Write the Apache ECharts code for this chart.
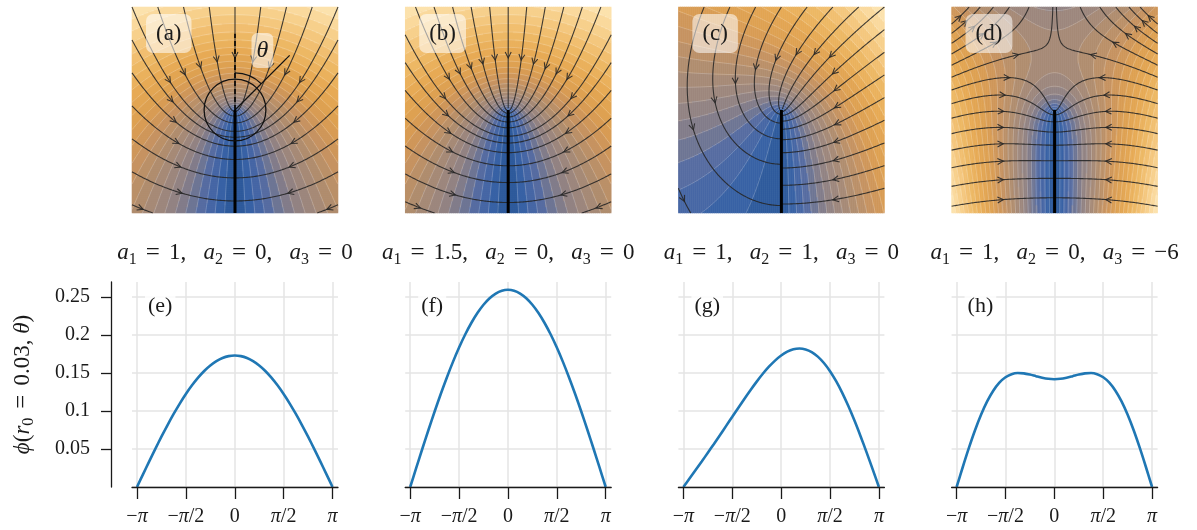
<!DOCTYPE html>
<html>
<head>
<meta charset="utf-8">
<script src="https://cdn.jsdelivr.net/npm/echarts@6.0.0/dist/echarts.min.js"></script>
<style>
html, body { margin: 0; padding: 0; background: #ffffff; }
#chart { width: 1197px; height: 530px; }
</style>
</head>
<body>
<div id="chart"></div>
<script>
// ---------------- values ----------------
// expansion coefficients (a1, a2, a3) of each column
const coefA = [[1, 0, 0], [1.5, 0, 0], [1, 1, 0], [1, 0, -6]];
const topTags = ['(a)', '(b)', '(c)', '(d)'];
const bottomTags = ['(e)', '(f)', '(g)', '(h)'];
const r0 = 0.03;

// sampled angles, in units of pi
const thetaOverPi = [-1, -0.9375, -0.875, -0.8125, -0.75, -0.6875, -0.625, -0.5625, -0.5, -0.4375, -0.375,
  -0.3125, -0.25, -0.1875, -0.125, -0.0625, 0, 0.0625, 0.125, 0.1875, 0.25, 0.3125, 0.375, 0.4375, 0.5,
  0.5625, 0.625, 0.6875, 0.75, 0.8125, 0.875, 0.9375, 1];
// phi(r0, theta) for each column
const phiE = [0, 0.0170, 0.0338, 0.0503, 0.0663, 0.0816, 0.0962, 0.1099, 0.1225, 0.1339, 0.1440, 0.1528, 0.1600,
  0.1657, 0.1699, 0.1724, 0.1732, 0.1724, 0.1699, 0.1657, 0.1600, 0.1528, 0.1440, 0.1339, 0.1225, 0.1099,
  0.0962, 0.0816, 0.0663, 0.0503, 0.0338, 0.0170, 0];
const phiF = [0, 0.0255, 0.0507, 0.0754, 0.0994, 0.1225, 0.1443, 0.1648, 0.1837, 0.2008, 0.2160, 0.2291, 0.2400,
  0.2486, 0.2548, 0.2586, 0.2598, 0.2586, 0.2548, 0.2486, 0.2400, 0.2291, 0.2160, 0.2008, 0.1837, 0.1648,
  0.1443, 0.1225, 0.0994, 0.0754, 0.0507, 0.0255, 0];
const phiG = [0, 0.0111, 0.0223, 0.0336, 0.0451, 0.0567, 0.0685, 0.0805, 0.0925, 0.1045, 0.1163, 0.1278, 0.1388,
  0.1491, 0.1584, 0.1665, 0.1732, 0.1782, 0.1814, 0.1824, 0.1812, 0.1777, 0.1717, 0.1633, 0.1525, 0.1393,
  0.1240, 0.1066, 0.0875, 0.0669, 0.0453, 0.0228, 0];
const phiH = [0, 0.0260, 0.0511, 0.0744, 0.0951, 0.1127, 0.1268, 0.1374, 0.1445, 0.1486, 0.1501, 0.1497, 0.1481,
  0.1460, 0.1440, 0.1425, 0.1420, 0.1425, 0.1440, 0.1460, 0.1481, 0.1497, 0.1501, 0.1486, 0.1445, 0.1374,
  0.1268, 0.1127, 0.0951, 0.0744, 0.0511, 0.0260, 0];
const curves = [phiE, phiF, phiG, phiH];

const xTickText = { '-1': '−π', '-0.5': '−π/2', '0': '0', '0.5': 'π/2', '1': 'π' };
const yTickValues = [0.05, 0.1, 0.15, 0.2, 0.25];
const yTickLabels = ['0.05', '0.1', '0.15', '0.2', '0.25'];

// crack face (x = 0, below the tip) in field coordinates
const crackFace = [[0, -0.1], [0, 0]];

// ---------------- styling / layout ----------------
const FONT = "'Liberation Serif', 'DejaVu Serif', serif";
const INK = '#1a1a1a';
const GRID_GRAY = '#e4e4e4';
const HALF = 0.1;          // half width of each field window
const NC = 103;            // heatmap cells per side
const NBANDS = 24;         // filled contour bands
const STEP = 273.2;        // horizontal distance between columns
const FIELD_LEFT = 132, FIELD_TOP = 7, FIELD_SIZE = 206;
const PLOT_TOP = 282, PLOT_H = 205, PLOT_YMAX = 0.27;
// streamline start spacing: along the top edge, and along the sides (at the top corner, at the bottom corner)
const seedLayout = [
  { top: 0.025, side: [0.032, 0.032] },
  { top: 0.018, side: [0.027, 0.027] },
  { top: 0.025, side: [0.022, 0.022] },
  { top: 0.016, side: [0.008, 0.021] }
];
// smallest inward share of the flow direction for a start point (top edge, side edges)
const MIN_ENTRY_TOP = 0.02, MIN_ENTRY_SIDE = 0.35;

const cmapStops = [
  [0.00, '#2a5898'], [0.07, '#3a63a6'], [0.14, '#546ba3'], [0.21, '#7b798d'],
  [0.28, '#968582'], [0.35, '#a58a78'], [0.42, '#b68e6b'], [0.50, '#cb955d'],
  [0.58, '#db9e52'], [0.68, '#e6a954'], [0.78, '#eeb966'], [0.88, '#f6cc86'],
  [0.95, '#fbdca2'], [1.00, '#fde6b4']
];
function hexRgb(h) { return [1, 3, 5].map(k => parseInt(h.slice(k, k + 2), 16)); }
function cmap(t) {
  for (let k = 1; k < cmapStops.length; k++) {
    if (t <= cmapStops[k][0] || k === cmapStops.length - 1) {
      const [t0, c0] = cmapStops[k - 1], [t1, c1] = cmapStops[k];
      const f = Math.max(0, Math.min(1, (t - t0) / (t1 - t0)));
      const a = hexRgb(c0), b = hexRgb(c1);
      return 'rgb(' + a.map((v, j) => Math.round(v + (b[j] - v) * f)).join(',') + ')';
    }
  }
}
const bandColors = Array.from({ length: NBANDS }, (_, b) => cmap((b + 0.5) / NBANDS));

// ---------------- near-tip field ----------------
// phi = a1 r^(1/2) cos(t/2) + a2 r sin(t) + a3 r^(3/2) cos(3t/2), t measured from the +y direction
function phiAt(a, x, y) {
  const r = Math.hypot(x, y), t = Math.atan2(x, y), sr = Math.sqrt(r);
  return a[0] * sr * Math.cos(t / 2) + a[1] * r * Math.sin(t) + a[2] * r * sr * Math.cos(1.5 * t);
}
function gradAt(a, x, y) {
  const r = Math.hypot(x, y);
  if (r < 1e-9) return [0, 0];
  const t = Math.atan2(x, y), sr = Math.sqrt(r);
  const pr = a[0] * 0.5 / sr * Math.cos(t / 2) + a[1] * Math.sin(t) + a[2] * 1.5 * sr * Math.cos(1.5 * t);
  const pt = -a[0] * 0.5 / sr * Math.sin(t / 2) + a[1] * Math.cos(t) - a[2] * 1.5 * sr * Math.sin(1.5 * t);
  const st = Math.sin(t), ct = Math.cos(t);
  return [pr * st + pt * ct, pr * ct - pt * st];
}

function buildField(a) {
  const h = 2 * HALF / NC, M = NC + 1;
  const node = new Float64Array(M * M);
  let lo = Infinity, hi = -Infinity;
  for (let j = 0; j < M; j++) for (let i = 0; i < M; i++) {
    const v = phiAt(a, -HALF + i * h, -HALF + j * h);
    node[j * M + i] = v; if (v < lo) lo = v; if (v > hi) hi = v;
  }
  const cells = [];
  for (let j = 0; j < NC; j++) for (let i = 0; i < NC; i++) {
    const v = phiAt(a, -HALF + (i + 0.5) * h, -HALF + (j + 0.5) * h);
    const b = Math.min(NBANDS - 1, Math.max(0, Math.floor((v - lo) / (hi - lo) * NBANDS)));
    cells.push([i, j, b]);
  }
  // band edges (marching squares)
  const segs = [];
  const levels = [];
  for (let k = 1; k < NBANDS; k++) levels.push(lo + k * (hi - lo) / NBANDS);
  for (let j = 0; j < NC; j++) for (let i = 0; i < NC; i++) {
    const x0 = -HALF + i * h, y0 = -HALF + j * h;
    const v00 = node[j * M + i], v10 = node[j * M + i + 1], v01 = node[(j + 1) * M + i], v11 = node[(j + 1) * M + i + 1];
    const mn = Math.min(v00, v10, v01, v11), mx = Math.max(v00, v10, v01, v11);
    for (const L of levels) {
      if (L <= mn || L >= mx) continue;
      const p = [];
      if ((v00 - L) * (v10 - L) < 0) p.push([x0 + h * (L - v00) / (v10 - v00), y0]);
      if ((v10 - L) * (v11 - L) < 0) p.push([x0 + h, y0 + h * (L - v10) / (v11 - v10)]);
      if ((v01 - L) * (v11 - L) < 0) p.push([x0 + h * (L - v01) / (v11 - v01), y0 + h]);
      if ((v00 - L) * (v01 - L) < 0) p.push([x0, y0 + h * (L - v00) / (v01 - v00)]);
      if (p.length >= 2) segs.push({ coords: [p[0], p[1]] });
      if (p.length === 4) segs.push({ coords: [p[2], p[3]] });
    }
  }
  return { cells, segs };
}

// ---------------- streamlines of -grad(phi), started where the flow enters the frame ----------------
function buildStreams(a, layout) {
  const ds = 0.0006, maxLen = 0.8;
  function trace(x, y) {
    const pts = [[x, y]];
    let len = 0, pdx = 0, pdy = 0;
    while (len < maxLen) {
      const g1 = gradAt(a, x, y);
      let ux = -g1[0], uy = -g1[1], s = Math.hypot(ux, uy);
      if (!(s > 1e-9)) break;
      ux /= s; uy /= s;
      const g2 = gradAt(a, x + 0.5 * ds * ux, y + 0.5 * ds * uy);
      let vx = -g2[0], vy = -g2[1];
      s = Math.hypot(vx, vy);
      if (!(s > 1e-9)) break;
      vx /= s; vy /= s;
      if (len > 0 && vx * pdx + vy * pdy < -0.2) break;
      const nx = x + ds * vx, ny = y + ds * vy;
      if ((x < 0 && nx >= 0) || (x > 0 && nx <= 0)) {
        const f = x / (x - nx), yc = y + f * (ny - y);
        if (yc < 0) { pts.push([0, yc]); break; }
      }
      let f = 1;
      if (nx > HALF) f = Math.min(f, (HALF - x) / (nx - x));
      if (nx < -HALF) f = Math.min(f, (-HALF - x) / (nx - x));
      if (ny > HALF) f = Math.min(f, (HALF - y) / (ny - y));
      if (ny < -HALF) f = Math.min(f, (-HALF - y) / (ny - y));
      if (f < 1 && len > 0) { pts.push([x + f * (nx - x), y + f * (ny - y)]); break; }
      if (Math.hypot(nx, ny) < 0.0012) break;
      x = Math.max(-HALF, Math.min(HALF, nx)); y = Math.max(-HALF, Math.min(HALF, ny));
      len += ds; pdx = vx; pdy = vy;
      pts.push([x, y]);
    }
    return pts;
  }
  // start points on the top edge (from its centre outwards) and down both sides
  const seeds = [];
  for (let k = 0; k * layout.top <= HALF + 1e-9; k++) {
    seeds.push([k * layout.top, HALF]);
    if (k > 0) seeds.push([-k * layout.top, HALF]);
  }
  const sideStep = y => layout.side[0] + (layout.side[1] - layout.side[0]) * (HALF - y) / (2 * HALF);
  for (const side of [1, -1]) {
    for (let y = HALF - sideStep(HALF); y > -HALF + 1e-9; y -= sideStep(y)) seeds.push([side * HALF, y]);
  }
  const lines = [], arrows = [];
  for (const [x0, y0] of seeds) {
    let nx = 0, ny = 0;
    const onTop = Math.abs(y0 - HALF) < 1e-9;
    if (onTop) ny -= 1;
    if (Math.abs(x0 - HALF) < 1e-9) nx -= 1;
    if (Math.abs(x0 + HALF) < 1e-9) nx += 1;
    const g = gradAt(a, x0, y0);
    const gl = Math.hypot(g[0], g[1]) * Math.hypot(nx, ny);
    const minEntry = onTop ? MIN_ENTRY_TOP : MIN_ENTRY_SIDE;
    if (!(gl > 0) || (-g[0] * nx - g[1] * ny) / gl < minEntry) continue;
    const pts = trace(x0, y0);
    const cum = [0];
    for (let k = 1; k < pts.length; k++) cum.push(cum[k - 1] + Math.hypot(pts[k][0] - pts[k - 1][0], pts[k][1] - pts[k - 1][1]));
    const total = cum[cum.length - 1];
    if (total < 0.1 * 2 * HALF) continue;
    const thin = pts.filter((p, k) => k % 2 === 0 || k === pts.length - 1);
    lines.push({ coords: thin });
    // open arrow head at half length
    let n = cum.findIndex(c => c >= total / 2);
    n = Math.max(0, Math.min(n, pts.length - 2));
    const p = pts[n], q = pts[n + 1];
    let dx = q[0] - p[0], dy = q[1] - p[1];
    const dl = Math.hypot(dx, dy) || 1; dx /= dl; dy /= dl;
    const head = [(p[0] + q[0]) / 2, (p[1] + q[1]) / 2];
    const L = 0.0064, ang = 27 * Math.PI / 180;
    const wing = sgn => {
      const c = Math.cos(sgn * ang), s = Math.sin(sgn * ang);
      const bx = -dx, by = -dy;
      return [head[0] + L * (bx * c - by * s), head[1] + L * (bx * s + by * c)];
    };
    arrows.push({ coords: [wing(1), head, wing(-1)] });
  }
  return { lines, arrows };
}

// ---------------- option assembly ----------------
const grids = [], xAxes = [], yAxes = [], series = [], titles = [], graphics = [];
const heatSeries = [];
const cellIdx = Array.from({ length: NC }, (_, k) => k);

const mathRich = (size, gap) => ({
  i: { fontStyle: 'italic', fontFamily: FONT, fontSize: size },
  e: { fontFamily: FONT, fontSize: size + 2, padding: [0, gap, 0, gap] },
  s: { fontFamily: FONT, fontSize: Math.round(size * 0.68), padding: [13, 0, 0, 0] }
});

function coefLabel(a) {
  return a.map((v, k) => '{i|a}{s|' + (k + 1) + '}{e|=}' + String(v).replace('-', '−')).join(',   ');
}

coefA.forEach((a, i) => {
  const FL = FIELD_LEFT + STEP * i;
  const field = buildField(a);
  const streams = buildStreams(a, seedLayout[i]);

  // heatmap grid (category cells)
  const hg = grids.length;
  grids.push({ left: FL, top: FIELD_TOP, width: FIELD_SIZE, height: FIELD_SIZE });
  xAxes.push({ type: 'category', gridIndex: hg, data: cellIdx, show: false, boundaryGap: true });
  yAxes.push({ type: 'category', gridIndex: hg, data: cellIdx, show: false, boundaryGap: true });
  // overlay grid in field coordinates
  const vg = grids.length;
  grids.push({ left: FL, top: FIELD_TOP, width: FIELD_SIZE, height: FIELD_SIZE });
  xAxes.push({ type: 'value', gridIndex: vg, min: -HALF, max: HALF, show: false });
  yAxes.push({ type: 'value', gridIndex: vg, min: -HALF, max: HALF, show: false });

  heatSeries.push(series.length);
  series.push({ type: 'heatmap', xAxisIndex: hg, yAxisIndex: hg, data: field.cells,
    progressive: 0, silent: true, z: 1, emphasis: { disabled: true } });
  series.push({ type: 'lines', coordinateSystem: 'cartesian2d', xAxisIndex: vg, yAxisIndex: vg,
    large: true, largeThreshold: 50, progressive: 0, data: field.segs, silent: true, z: 2,
    lineStyle: { color: '#ffffff', opacity: 0.28, width: 0.8 } });
  series.push({ type: 'lines', coordinateSystem: 'cartesian2d', xAxisIndex: vg, yAxisIndex: vg,
    polyline: true, progressive: 0, data: streams.lines, silent: true, z: 3,
    lineStyle: { color: '#262626', opacity: 0.88, width: 1.1 } });
  series.push({ type: 'lines', coordinateSystem: 'cartesian2d', xAxisIndex: vg, yAxisIndex: vg,
    polyline: true, progressive: 0, data: streams.arrows, silent: true, z: 3,
    lineStyle: { color: '#262626', opacity: 0.88, width: 1.1 } });
  series.push({ type: 'line', xAxisIndex: vg, yAxisIndex: vg, data: crackFace, showSymbol: false,
    silent: true, z: 4, lineStyle: { color: '#000000', width: 3 } });

  if (i === 0) {
    // polar angle annotation around the tip
    series.push({ type: 'line', xAxisIndex: vg, yAxisIndex: vg, data: [[0, 0], [0, 0.074]], showSymbol: false,
      silent: true, z: 5, lineStyle: { color: '#000000', width: 1.6, type: [5, 3] } });
    const arcR = 0.036, rayLen = 0.075, rayAng = Math.PI / 4;
    series.push({ type: 'custom', coordinateSystem: 'cartesian2d', xAxisIndex: vg, yAxisIndex: vg,
      data: [[0, 0]], silent: true, z: 5,
      renderItem: (params, api) => {
        const c = api.coord([0, 0]);
        const rc = api.size([r0, 0])[0];
        const ra = api.size([arcR, 0])[0];
        const e = api.coord([rayLen * Math.sin(rayAng), rayLen * Math.cos(rayAng)]);
        const st = { fill: 'none', stroke: '#111111', lineWidth: 1.3 };
        return { type: 'group', children: [
          { type: 'circle', shape: { cx: c[0], cy: c[1], r: rc }, style: st },
          { type: 'arc', shape: { cx: c[0], cy: c[1], r: ra, startAngle: -Math.PI / 2, endAngle: -Math.PI / 2 + rayAng, clockwise: true }, style: st },
          { type: 'line', shape: { x1: c[0], y1: c[1], x2: e[0], y2: e[1] }, style: { stroke: '#111111', lineWidth: 1.3 } }
        ] };
      } });
    titles.push({ text: 'θ', left: FL + 119.5, top: 33, padding: [5, 5, 5, 5],
      backgroundColor: 'rgba(255,255,255,0.55)', borderRadius: 6,
      textStyle: { fontFamily: FONT, fontStyle: 'italic', fontWeight: 'normal', fontSize: 24, lineHeight: 25, color: INK } });
  }

  titles.push({ text: topTags[i], left: FL + 14, top: 14, padding: [6, 10, 6, 10],
    backgroundColor: 'rgba(255,255,255,0.55)', borderRadius: 7,
    textStyle: { fontFamily: FONT, fontWeight: 'normal', fontSize: 23, lineHeight: 27, color: INK } });

  graphics.push({ type: 'text', x: FL + FIELD_SIZE / 2, y: 253, z: 10,
    style: { text: coefLabel(a), align: 'center', verticalAlign: 'middle', fontFamily: FONT, fontSize: 23, fill: INK,
      rich: mathRich(23, 9) } });
});

curves.forEach((vals, i) => {
  const WL = FIELD_LEFT + STEP * i;
  // data grid: x from -pi to pi
  const dg = grids.length;
  grids.push({ left: WL + 5, top: PLOT_TOP, width: 195.5, height: PLOT_H });
  xAxes.push({ type: 'value', gridIndex: dg, min: -1, max: 1, interval: 0.5,
    axisLine: { show: false },
    axisTick: { show: true, length: 12, lineStyle: { color: INK, width: 1.3 } },
    axisLabel: { show: true, margin: 20, fontFamily: FONT, fontSize: 20, color: INK,
      formatter: v => { const s = xTickText[String(v)]; return s === undefined ? '' : s.replace('π', '{i|π}'); },
      rich: { i: { fontStyle: 'italic', fontFamily: FONT, fontSize: 20, color: INK } } },
    splitLine: { show: true, lineStyle: { color: GRID_GRAY, width: 1.5 } } });
  const yAx = { type: 'value', gridIndex: dg, min: 0, max: PLOT_YMAX, interval: 0.05, show: i === 0, offset: 26,
    axisLine: { show: true, onZero: false, lineStyle: { color: INK, width: 1.3 } },
    axisTick: { show: true, length: 10, customValues: yTickValues, lineStyle: { color: INK, width: 1.3 } },
    axisLabel: { show: true, margin: 21, customValues: yTickValues, fontFamily: FONT, fontSize: 20, color: INK,
      formatter: v => { const k = yTickValues.findIndex(t => Math.abs(t - v) < 1e-9); return k < 0 ? '' : yTickLabels[k]; } },
    splitLine: { show: false } };
  if (i === 0) {
    const rich = mathRich(23, 9);
    Object.keys(rich).forEach(k => { rich[k].color = INK; });
    Object.assign(yAx, {
      name: '{i|ϕ}({i|r}{s|0}{e|=}' + r0 + ', {i|θ})', nameLocation: 'middle', nameRotate: 90, nameGap: 74,
      nameTextStyle: { fontFamily: FONT, fontSize: 23, color: INK, rich: rich }
    });
  }
  yAxes.push(yAx);
  series.push({ type: 'line', xAxisIndex: dg, yAxisIndex: dg, data: thetaOverPi.map((t, k) => [t, vals[k]]),
    showSymbol: false, smooth: 0.3, silent: true, z: 3, clip: false,
    lineStyle: { color: '#1f77b4', width: 2.6 } });

  // wider frame: horizontal guides and the bottom spine
  const wg = grids.length;
  const gTop = PLOT_TOP + PLOT_H * (PLOT_YMAX - 0.25) / PLOT_YMAX;
  grids.push({ left: WL, top: gTop, width: 206, height: PLOT_TOP + PLOT_H - gTop });
  xAxes.push({ type: 'value', gridIndex: wg, min: 0, max: 1, z: 5,
    axisLine: { show: true, onZero: false, lineStyle: { color: INK, width: 1.3 } },
    axisTick: { show: false }, axisLabel: { show: false }, splitLine: { show: false } });
  yAxes.push({ type: 'value', gridIndex: wg, min: 0, max: 0.25, interval: 0.05,
    axisLine: { show: false }, axisTick: { show: false }, axisLabel: { show: false },
    splitLine: { show: true, lineStyle: { color: GRID_GRAY, width: 1.5 } } });

  titles.push({ text: bottomTags[i], left: WL + 13, top: 291, padding: [2, 3, 2, 3],
    backgroundColor: 'rgba(255,255,255,0.85)', borderRadius: 4,
    textStyle: { fontFamily: FONT, fontWeight: 'normal', fontSize: 22, lineHeight: 26, color: INK } });
});

const chart = echarts.init(document.getElementById('chart'), null, { renderer: 'canvas' });
chart.setOption({
  animation: false,
  backgroundColor: '#ffffff',
  title: titles,
  grid: grids,
  xAxis: xAxes,
  yAxis: yAxes,
  visualMap: {
    type: 'piecewise', show: false, dimension: 2, seriesIndex: heatSeries,
    pieces: bandColors.map((c, b) => ({ value: b, color: c }))
  },
  graphic: graphics,
  series: series
});
</script>
</body>
</html>
